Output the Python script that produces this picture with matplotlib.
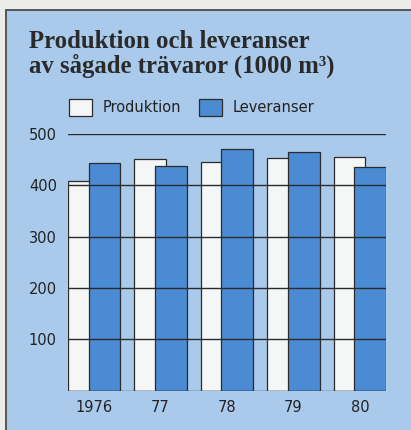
import numpy as np
import matplotlib.pyplot as plt
from matplotlib.patches import Rectangle

years = ['1976', '77', '78', '79', '80']
produktion = [408, 452, 446, 454, 456]
leveranser = [444, 438, 470, 464, 436]
yticks = [100, 200, 300, 400, 500]

bg = '#aacaeb'
blue = '#4a8bd4'
white = '#f5f7f6'
dark = '#2b2b2b'

W, H = 411, 430
fig = plt.figure(figsize=(W / 100, H / 100), dpi=100)
fig.patch.set_facecolor('#ecece8')
fig.add_artist(Rectangle((6 / W, -0.05), 1.5, 1 - 10 / H + 0.05, transform=fig.transFigure,
                         facecolor=bg, edgecolor='#555555', lw=1.4, zorder=0))

# plot area in pixels: x 68..386, y(0)=390.7, y(500)=134
ax = fig.add_axes([68 / W, (H - 390.7) / H, (386 - 68) / W, (390.7 - 134) / H])
ax.set_facecolor('none')
x = np.arange(len(years))
off = 0.155
w = 0.478
ax.bar(x - off, produktion, w, color=white, edgecolor=dark, lw=0.9, zorder=2, label='Produktion')
ax.bar(x + off, leveranser, w, color=blue, edgecolor=dark, lw=0.9, zorder=3, label='Leveranser')
for v in [0] + yticks:
    ax.axhline(v, color=dark, lw=1.0, zorder=4)
ax.set_xlim(-off - w / 2, len(years) - 1 + off + w / 2)
ax.set_ylim(0, 500)
ax.set_yticks(yticks)
ax.set_xticks(x)
ax.set_xticklabels(years)
ax.tick_params(axis='both', length=0, labelsize=10.5, colors='#222222')
ax.tick_params(axis='y', pad=8)
ax.tick_params(axis='x', pad=7)
for s in ax.spines.values():
    s.set_visible(False)

ax.legend(ncol=2, loc='center left', bbox_to_anchor=(69 / W, 1 - 107.5 / H),
          bbox_transform=fig.transFigure, frameon=False, fontsize=10.5,
          handlelength=1.57, handleheight=1.45, handletextpad=0.75, columnspacing=1.2,
          borderpad=0, borderaxespad=0, labelcolor='#222222')

tf = dict(family='Liberation Serif', weight='bold', size=17.8, color='#2a2a2a')
fig.text(29 / W, 1 - 48 / H, 'Produktion och leveranser', va='baseline', **tf)
fig.text(29 / W, 1 - 73 / H, 'av sågade trävaror (1000 m³)', va='baseline', **tf)

fig.savefig('out.png', dpi=100)
